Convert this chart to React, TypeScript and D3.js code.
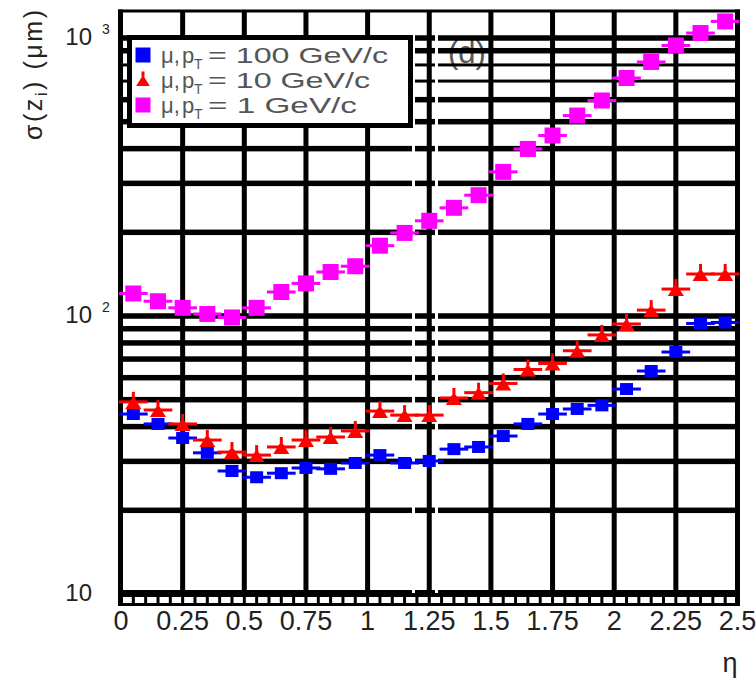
import React from "react";
import * as d3 from "d3";

const ETA = [0.05, 0.15, 0.25, 0.35, 0.45, 0.55, 0.65, 0.75, 0.85, 0.95, 1.05, 1.15, 1.25, 1.35, 1.45, 1.55, 1.65, 1.75, 1.85, 1.95, 2.05, 2.15, 2.25, 2.35, 2.45];
const SIGMA_PT100 = [44.4, 40.9, 36.4, 32.2, 27.7, 26.3, 27.2, 28.4, 28.2, 29.6, 31.6, 29.6, 30.1, 33.2, 33.8, 37.0, 40.9, 44.4, 46.3, 47.7, 54.6, 63.4, 74.2, 94.0, 94.8];
const SIGMA_PT10 = [49.1, 45.9, 40.9, 35.8, 32.4, 31.6, 33.8, 35.8, 36.7, 38.6, 45.5, 44.0, 44.0, 50.7, 53.0, 57.2, 64.2, 67.5, 75.0, 85.5, 93.6, 105, 125, 141.6, 141.6];
const SIGMA_PT1 = [120.5, 113, 107, 101.7, 98.8, 107, 122, 131, 144, 151, 179, 199, 220, 245, 272, 330, 399, 446, 526, 596, 718, 820, 940, 1042, 1147];
const BIN_HALF_WIDTH = 0.05;

const X_TICKS = [0, 0.25, 0.5, 0.75, 1, 1.25, 1.5, 1.75, 2, 2.25, 2.5];
const X_TICK_LABELS = ["0", "0.25", "0.5", "0.75", "1", "1.25", "1.5", "1.75", "2", "2.25", "2.5"];
const X_MINOR_STEP = 0.05;
const Y_GRID = [20, 30, 40, 50, 60, 70, 80, 90, 100, 200, 300, 400, 500, 600, 700, 800, 900, 1000];
const Y_TICKS = [10, 100, 1000];
const Y_TICK_EXPONENTS = ["", "2", "3"];
const LEGEND_PT = ["100 GeV/c", "10 GeV/c", "1 GeV/c"];
const LEGEND_COLORS = ["#0000ff", "#ff0000", "#ff00ff"];
const LEGEND_TEXT_END = [388, 370, 357];

const W = 756;
const H = 681;
const xL = 121;
const xR = 737.5;
const bandTop = 590;
const bandBot = 606;

const x = d3.scaleLinear().domain([0, 2.5]).range([xL, xR]);
const y = d3.scaleLog().domain([10, 1000]).range([594, 38]);

function Square({ cx, cy, w, h, color }: any) {
  return <rect x={cx - w / 2} y={cy - h / 2} width={w} height={h} fill={color} />;
}

function Triangle({ cx, cy, color, s = 1 }: any) {
  const p = d3.path();
  p.moveTo(cx - 8 * s, cy + 7 * s);
  p.lineTo(cx + 8 * s, cy + 7 * s);
  p.lineTo(cx, cy - 6 * s);
  p.closePath();
  return (
    <g>
      <path d={p.toString()} fill={color} />
      <rect x={cx - 1.5} y={cy - 10 * s} width={3} height={6 * s} fill={color} />
    </g>
  );
}

function ErrBar({ eta, v, color }: any) {
  const x0 = x(eta - BIN_HALF_WIDTH) - 2;
  const x1 = x(eta + BIN_HALF_WIDTH) + 2;
  return <rect x={x0} y={y(v) - 1.5} width={x1 - x0} height={3} fill={color} />;
}

export default function App() {
  const minorCount = Math.round(2.5 / X_MINOR_STEP);
  const cells = d3.range(minorCount).map((i) => {
    const a = x(i * X_MINOR_STEP) + 1.5;
    const b = x((i + 1) * X_MINOR_STEP) - 1.5;
    return { a, b };
  });
  const font = "'Liberation Sans', Arial, Helvetica, sans-serif";
  return (
    <div style={{ position: "absolute", left: 0, top: 0 }}>
      <svg width={W} height={H} style={{ display: "block", background: "#fff" }} fontFamily={font}>
        <rect x={0} y={0} width={W} height={H} fill="#fff" />
        {/* (d) label under grid */}
        <text x={467} y={63} fontSize={31} textAnchor="middle" fill="#555">(d)</text>

        {/* vertical grid */}
        {X_TICKS.slice(1, -1).map((t) => (
          <rect key={"vx" + t} x={x(t) - 2.5} y={10} width={5} height={bandTop - 10} fill="#000" />
        ))}
        {/* horizontal grid */}
        {Y_GRID.map((v) => {
          const w = v === 700 || v === 800 ? 3 : 5.5;
          return <rect key={"hy" + v} x={xL} y={y(v) - w / 2} width={xR - xL} height={w} fill="#000" />;
        })}
        {/* bottom band with minor ticks */}
        <rect x={118} y={bandTop} width={622} height={bandBot - bandTop} fill="#000" />
        {cells.map((c, i) => (
          <rect key={"c" + i} x={c.a} y={597} width={c.b - c.a} height={6} fill="#fff" />
        ))}
        {/* gaps near eta 1.25 */}
        <rect x={412} y={30} width={3} height={563} fill="#fff" />
        <rect x={435} y={30} width={3} height={563} fill="#fff" />
        {/* frame */}
        <rect x={118} y={9.5} width={5} height={bandBot - 9.5} fill="#000" />
        <rect x={735} y={9.5} width={5} height={bandBot - 9.5} fill="#000" />
        <rect x={118} y={9.5} width={622} height={3} fill="#000" />

        {/* data: pT = 100 */}
        {ETA.map((e, i) => (
          <g key={"b" + i}>
            <ErrBar eta={e} v={SIGMA_PT100[i]} color="#0000ff" />
            <Square cx={x(e)} cy={y(SIGMA_PT100[i])} w={13} h={12} color="#0000ff" />
          </g>
        ))}
        {/* data: pT = 10 */}
        {ETA.map((e, i) => (
          <g key={"r" + i}>
            <ErrBar eta={e} v={SIGMA_PT10[i]} color="#ff0000" />
            <Triangle cx={x(e)} cy={y(SIGMA_PT10[i])} color="#ff0000" />
          </g>
        ))}
        {/* data: pT = 1 */}
        {ETA.map((e, i) => (
          <g key={"m" + i}>
            <ErrBar eta={e} v={SIGMA_PT1[i]} color="#ff00ff" />
            <Square cx={x(e)} cy={y(SIGMA_PT1[i])} w={16} h={16} color="#ff00ff" />
          </g>
        ))}

        {/* legend */}
        <rect x={129.5} y={37.5} width={281} height={88} fill="#fff" stroke="#000" strokeWidth={5} />
        {LEGEND_PT.map((lab, i) => {
          const cy = [55, 80, 105][i];
          const color = LEGEND_COLORS[i];
          return (
            <g key={"lg" + i}>
              {i === 1 ? (
                <Triangle cx={143} cy={cy} color={color} s={0.85} />
              ) : (
                <Square cx={143} cy={cy} w={15} h={15} color={color} />
              )}
              <text x={161} y={cy + 8} fontSize={22} fill="#555">μ,</text>
              <text x={182} y={cy + 8} fontSize={22} fill="#555">p</text>
              <text x={194} y={cy + 14} fontSize={14} fill="#555">T</text>
              <text x={208} y={cy + 8} fontSize={22} fill="#555" textLength={LEGEND_TEXT_END[i] - 208} lengthAdjust="spacingAndGlyphs">
                {"= " + lab}
              </text>
            </g>
          );
        })}

        {/* y tick labels */}
        {Y_TICKS.map((v, i) => (
          <g key={"yt" + v}>
            <text x={92} y={y(v) + 7} fontSize={24} textAnchor="end" fill="#222">10</text>
            {Y_TICK_EXPONENTS[i] && (
              <text x={102} y={y(v) - 4} fontSize={14} fill="#222">{Y_TICK_EXPONENTS[i]}</text>
            )}
          </g>
        ))}
        {/* x tick labels */}
        {X_TICKS.map((t, i) => (
          <text key={"xt" + t} x={x(t)} y={630} fontSize={27} textAnchor="middle" fill="#222">
            {X_TICK_LABELS[i]}
          </text>
        ))}
        {/* axis titles */}
        <text x={730} y={672} fontSize={27} textAnchor="middle" fill="#222">η</text>
        <g transform="translate(42,140) rotate(-90)">
          <text x={0} y={0} fontSize={25} fill="#222" textLength={130} lengthAdjust="spacing">
            σ(z<tspan fontSize={16} dy={5}>i</tspan><tspan dy={-5}>) (μm)</tspan>
          </text>
        </g>
      </svg>
    </div>
  );
}
